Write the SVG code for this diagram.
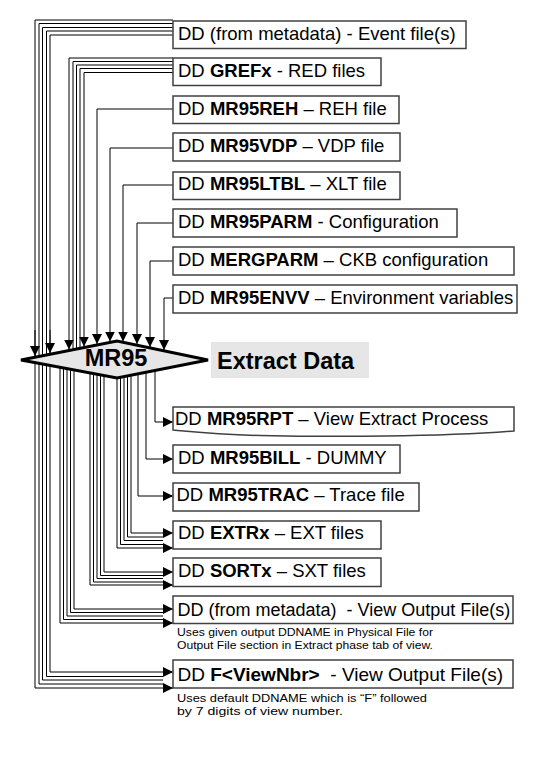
<svg xmlns="http://www.w3.org/2000/svg" width="533" height="761" viewBox="0 0 533 761">
<style>
.box{fill:#fff;stroke:#404040;stroke-width:1.5}
.t{font-family:"Liberation Sans",Arial,sans-serif;font-size:18.5px;fill:#000}
.b{font-weight:bold}
.note{font-family:"Liberation Sans",Arial,sans-serif;font-size:11px;fill:#000}
.c path{fill:none;stroke:#000;stroke-width:1}
.c path.a{marker-end:url(#ah)}
</style>
<defs>
<marker id="ah" markerWidth="10" markerHeight="10" refX="10" refY="5" orient="auto" markerUnits="userSpaceOnUse"><path d="M0,0 L10,5 L0,10 Z" fill="#000"/></marker>
</defs>
<rect width="533" height="761" fill="#fff"/>
<g id="connectors" class="c">
<path d="M173,20 H35 V688 H173" class="a"/>
<path d="M173,23.5 H39 V684 H163"/>
<path d="M173,27.5 H42.5 V680 H163"/>
<path d="M173,31 H46.5 V676.5 H163"/>
<path d="M173,35 H50 V672 H173" class="a"/>
<path d="M35,330 V356" class="a"/>
<path d="M50,330 V353" class="a"/>
<path d="M173,58 H69 V349.5" class="a"/>
<path d="M173,61.5 H73 V356"/>
<path d="M173,65 H76.5 V356"/>
<path d="M173,68.5 H80 V356"/>
<path d="M173,72.5 H84 V346.5" class="a"/>
<path d="M173,109 H97 V344" class="a"/>
<path d="M173,148 H110 V341.5" class="a"/>
<path d="M173,185 H123 V341.5" class="a"/>
<path d="M173,223 H137 V344" class="a"/>
<path d="M173,261 H150 V347" class="a"/>
<path d="M173,298 H164 V350" class="a"/>
<path d="M155,365 V422 H173" class="a"/>
<path d="M146,365 V459 H173" class="a"/>
<path d="M138,365 V496 H173" class="a"/>
<path d="M131,362 V533 H173" class="a"/>
<path d="M127.5,362 V537 H163"/>
<path d="M124,362 V540.5 H163"/>
<path d="M120.5,362 V544.5 H163"/>
<path d="M117,362 V548 H173" class="a"/>
<path d="M104,362 V572 H173" class="a"/>
<path d="M100.5,362 V575.5 H163"/>
<path d="M97,362 V578.5 H163"/>
<path d="M93.5,362 V582 H163"/>
<path d="M90,362 V585 H173" class="a"/>
<path d="M74,360 V609 H173" class="a"/>
<path d="M70.5,360 V612.5 H163"/>
<path d="M67,360 V616 H163"/>
<path d="M63.5,360 V619.5 H163"/>
<path d="M60,360 V623 H173" class="a"/>
</g>
<g id="mr95">
<polygon points="21,360 117,341 208,360 117,378" fill="#e6e6e6" stroke="#000" stroke-width="3"/>
<text x="116" y="366" text-anchor="middle" class="t b" style="font-size:23.5px">MR95</text>
</g>
<g id="extract-data">
<rect x="211" y="342" width="158" height="36" fill="#e6e6e6"/>
<text x="217" y="368.5" class="t b" style="font-size:23.5px">Extract Data</text>
</g>
<g id="event">
<rect class="box" x="173" y="21" width="293" height="27.5"/>
<text class="t" x="178" y="39.5">DD (from metadata) - Event file(s)</text>
</g>
<g id="grefx">
<rect class="box" x="173" y="58" width="208" height="27.5"/>
<text class="t" x="178" y="76.5">DD <tspan class="b">GREFx</tspan> - RED files</text>
</g>
<g id="mr95reh">
<rect class="box" x="173" y="96" width="226" height="27.5"/>
<text class="t" x="178" y="114.5">DD <tspan class="b">MR95REH</tspan> – REH file</text>
</g>
<g id="mr95vdp">
<rect class="box" x="173" y="133" width="227" height="28"/>
<text class="t" x="178" y="151.5">DD <tspan class="b">MR95VDP</tspan> – VDP file</text>
</g>
<g id="mr95ltbl">
<rect class="box" x="173" y="172" width="227" height="27.5"/>
<text class="t" x="178" y="190">DD <tspan class="b">MR95LTBL</tspan> – XLT file</text>
</g>
<g id="mr95parm">
<rect class="box" x="173" y="209" width="284" height="28"/>
<text class="t" x="178" y="227.5">DD <tspan class="b">MR95PARM</tspan> - Configuration</text>
</g>
<g id="mergparm">
<rect class="box" x="173" y="247" width="341" height="28"/>
<text class="t" x="178" y="265.5">DD <tspan class="b">MERGPARM</tspan> – CKB configuration</text>
</g>
<g id="mr95envv">
<rect class="box" x="173" y="285" width="344" height="28"/>
<text class="t" x="178" y="303.5">DD <tspan class="b">MR95ENVV</tspan> – Environment variables</text>
</g>
<g id="mr95rpt">
<path class="box" d="M173,407 H514 V431 C440,437 330,437 260,435.5 C220,434.5 195,432 173,430 Z"/>
<text class="t" x="175" y="424.5">DD <tspan class="b">MR95RPT</tspan> – View Extract Process</text>
</g>
<g id="mr95bill">
<rect class="box" x="173" y="445" width="227" height="28"/>
<text class="t" x="178" y="463.5">DD <tspan class="b">MR95BILL</tspan> - DUMMY</text>
</g>
<g id="mr95trac">
<rect class="box" x="173" y="483" width="246" height="28"/>
<text class="t" x="176.5" y="501">DD <tspan class="b">MR95TRAC</tspan> – Trace file</text>
</g>
<g id="extrx">
<rect class="box" x="173" y="521" width="208" height="28"/>
<text class="t" x="178" y="539">DD <tspan class="b">EXTRx</tspan> – EXT files</text>
</g>
<g id="sortx">
<rect class="box" x="173" y="558" width="208" height="28.5"/>
<text class="t" x="178" y="576.7">DD <tspan class="b">SORTx</tspan> – SXT files</text>
</g>
<g id="view-output-meta">
<rect class="box" x="173" y="596" width="340" height="27.5"/>
<text class="t" x="177.5" y="616" style="font-size:18px" xml:space="preserve">DD (from metadata)  - View Output File(s)</text>
<text class="note" x="177" y="636" textLength="256" lengthAdjust="spacingAndGlyphs">Uses given output DDNAME in Physical File for</text>
<text class="note" x="177" y="649" textLength="256" lengthAdjust="spacingAndGlyphs">Output File section in Extract phase tab of view.</text>
</g>
<g id="view-output-f">
<rect class="box" x="173" y="660" width="340" height="28"/>
<text class="t" x="177.5" y="680.5" style="font-size:19px" xml:space="preserve">DD <tspan class="b">F&lt;ViewNbr&gt;</tspan>  - View Output File(s)</text>
<text class="note" x="177" y="702" textLength="250" lengthAdjust="spacingAndGlyphs">Uses default DDNAME which is “F” followed</text>
<text class="note" x="177" y="715" textLength="166" lengthAdjust="spacingAndGlyphs">by 7 digits of view number.</text>
</g>
</svg>
